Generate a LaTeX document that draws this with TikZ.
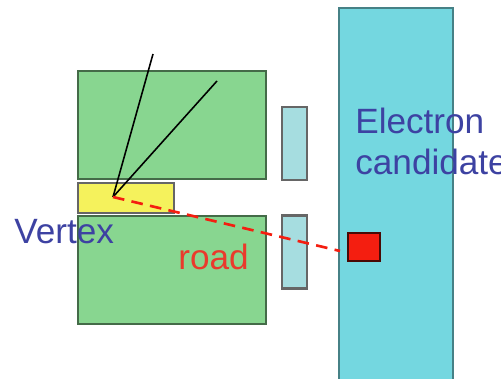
\documentclass[tikz,border=0pt]{standalone}
\usepackage{fontspec}
\setmainfont{Liberation Sans}
\definecolor{magnetgreen}{HTML}{88D690}
\definecolor{vertexyellow}{HTML}{F5F25C}
\definecolor{chamberteal}{HTML}{A6DDE0}
\definecolor{caloblue}{HTML}{74D7E0}
\definecolor{hitred}{HTML}{F41E10}
\definecolor{labelblue}{HTML}{3D42A2}
\definecolor{roadred}{HTML}{EA3A2C}
\tikzset{
  block/.style={draw=black!60, line width=1.2pt, inner sep=0pt, outer sep=0pt, anchor=center},
  magnet/.style={block, fill=magnetgreen, draw=black!50!magnetgreen, minimum width=3.76cm, minimum height=2.16cm},
  target/.style={block, fill=vertexyellow, minimum width=1.92cm, minimum height=0.60cm},
  chamber/.style={block, fill=chamberteal, minimum width=0.50cm, minimum height=1.46cm},
  calo/.style={block, fill=caloblue, draw=black!40!caloblue, minimum width=2.28cm, minimum height=7.80cm},
  hit/.style={block, fill=hitred, draw=black!70!hitred, minimum width=0.64cm, minimum height=0.56cm},
  track/.style={draw=black, line width=0.9pt},
  road/.style={draw=hitred, line width=1.5pt, dash pattern=on 6.6pt off 4.2pt},
  bluelabel/.style={font=\fontsize{20}{24}\selectfont, text=labelblue, inner sep=0pt},
}
\begin{document}
\begin{tikzpicture}
\clip (0,0) rectangle (10.02,7.56);
\node[magnet] (uppermagnet) at (3.44,5.06) {};
\node[magnet] (lowermagnet) at (3.44,2.16) {};
\node[target] (target) at (2.52,3.60) {};
\node[chamber] (upperchamber) at (5.89,4.69) {};
\node[chamber] (lowerchamber) at (5.89,2.52) {};
\node[calo] (calo) at (7.92,3.50) {};
\node[hit] (hit) at (7.28,2.62) {};
\coordinate (vertex) at (2.26,3.62);
\coordinate (trackone) at (3.06,6.48);
\coordinate (tracktwo) at (4.34,5.94);
\coordinate (roadend) at (6.80,2.54);
\draw[track] (vertex) -- (trackone);
\draw[track] (vertex) -- (tracktwo);
\draw[road] (vertex) -- (roadend);
\node[bluelabel, anchor=base west] (vertexlabel) at (0.28,2.70) {Vertex};
\node[bluelabel, anchor=base west, text=roadred] (roadlabel) at (3.56,2.17) {road};
\node[bluelabel, anchor=base west] (electronlabel) at (7.10,4.88) {Electron};
\node[bluelabel, anchor=base west] (candidatelabel) at (7.10,4.06) {candidate};
\end{tikzpicture}
\end{document}
